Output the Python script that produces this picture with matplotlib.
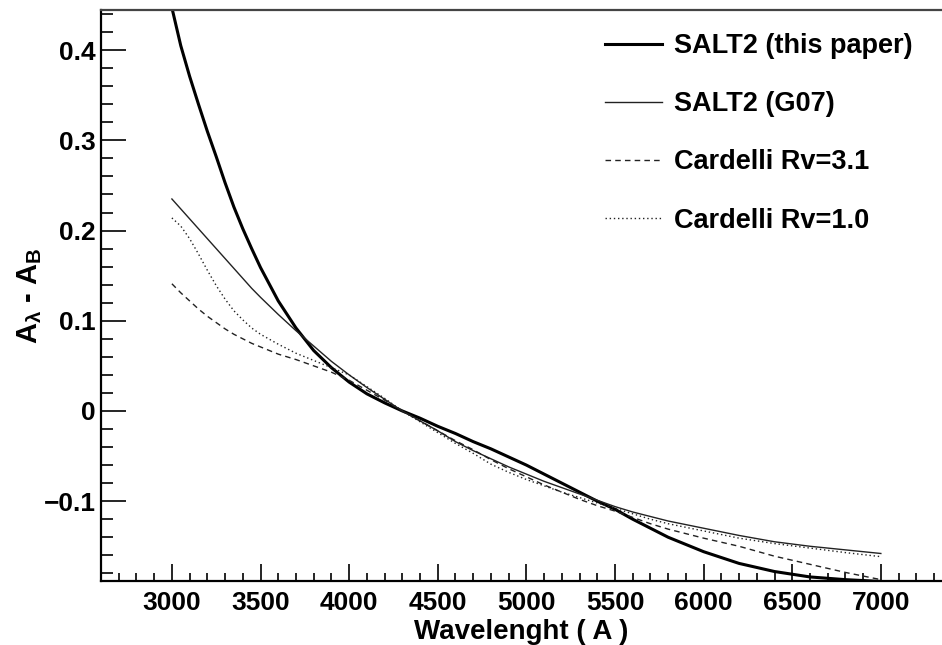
import matplotlib
matplotlib.use('Agg')
import matplotlib.pyplot as plt
from matplotlib.ticker import MultipleLocator, FuncFormatter

# ── DATA ──────────────────────────────────────────────────────────────────────
WAVE = [3000, 3050, 3100, 3150, 3200, 3250, 3300, 3350, 3400, 3450, 3500,
        3600, 3700, 3800, 3900, 4000, 4100, 4200, 4300, 4400, 4500, 4600,
        4700, 4800, 4900, 5000, 5100, 5200, 5300, 5400, 5500, 5600, 5700,
        5800, 5900, 6000, 6200, 6400, 6600, 6800, 7000]

salt2_paper = [0.447, 0.405, 0.371, 0.340, 0.310, 0.282, 0.253, 0.226, 0.202, 0.180, 0.159,
               0.122, 0.092, 0.067, 0.048, 0.032, 0.019, 0.009, 0.000, -0.008, -0.017, -0.025,
               -0.034, -0.042, -0.051, -0.060, -0.070, -0.080, -0.090, -0.100, -0.109, -0.120, -0.130,
               -0.140, -0.148, -0.156, -0.169, -0.178, -0.184, -0.187, -0.189]

salt2_g07 = [0.235, 0.224, 0.213, 0.202, 0.191, 0.180, 0.169, 0.158, 0.147, 0.136, 0.126,
             0.107, 0.089, 0.072, 0.055, 0.040, 0.026, 0.013, 0.000, -0.011, -0.022, -0.034,
             -0.044, -0.053, -0.062, -0.070, -0.078, -0.085, -0.092, -0.099, -0.106, -0.112, -0.117,
             -0.122, -0.126, -0.130, -0.138, -0.145, -0.150, -0.154, -0.158]

cardelli_31 = [0.141, 0.131, 0.122, 0.113, 0.105, 0.098, 0.091, 0.085, 0.080, 0.075, 0.071,
               0.063, 0.057, 0.050, 0.043, 0.034, 0.023, 0.012, 0.000, -0.011, -0.022, -0.033,
               -0.043, -0.054, -0.064, -0.073, -0.082, -0.090, -0.098, -0.105, -0.111, -0.118, -0.125,
               -0.131, -0.136, -0.141, -0.150, -0.161, -0.170, -0.179, -0.187]

cardelli_10 = [0.214, 0.205, 0.191, 0.174, 0.156, 0.139, 0.124, 0.111, 0.101, 0.092, 0.085,
               0.074, 0.064, 0.056, 0.048, 0.040, 0.027, 0.014, 0.000, -0.012, -0.024, -0.036,
               -0.047, -0.059, -0.068, -0.076, -0.083, -0.090, -0.096, -0.102, -0.108, -0.114, -0.120,
               -0.125, -0.129, -0.133, -0.141, -0.147, -0.152, -0.157, -0.1615]

LABELS = ["SALT2 (this paper)", "SALT2 (G07)", "Cardelli Rv=3.1", "Cardelli Rv=1.0"]

# ── STYLE ─────────────────────────────────────────────────────────────────────
plt.rcParams['font.family'] = ['Liberation Sans', 'DejaVu Sans']
plt.rcParams['font.weight'] = 'bold'
plt.rcParams['mathtext.fontset'] = 'custom'
plt.rcParams['mathtext.rm'] = 'Liberation Sans:bold'
plt.rcParams['mathtext.it'] = 'Liberation Sans:bold'
plt.rcParams['mathtext.bf'] = 'Liberation Sans:bold'

fig = plt.figure(figsize=(9.42, 6.45), dpi=100)
ax = fig.add_axes([101/942, 64/645, 841/942, 571/645])

ax.plot(WAVE, salt2_paper, color='black', lw=2.2, label=LABELS[0])
ax.plot(WAVE, salt2_g07, color='#222222', lw=1.0, label=LABELS[1])
ax.plot(WAVE, cardelli_31, color='#222222', lw=1.0, ls=(0, (4, 3)), label=LABELS[2])
ax.plot(WAVE, cardelli_10, color='#222222', lw=1.0, ls=(0, (1, 2)), label=LABELS[3])

ax.set_xlim(2600, 7345)
ax.set_ylim(-0.1885, 0.4445)

ax.xaxis.set_major_locator(MultipleLocator(500))
ax.xaxis.set_minor_locator(MultipleLocator(100))
ax.yaxis.set_major_locator(MultipleLocator(0.1))
ax.yaxis.set_minor_locator(MultipleLocator(0.02))
ax.yaxis.set_major_formatter(FuncFormatter(lambda v, p: "0" if abs(v) < 1e-9 else f"{v:.1f}".replace('-', '\u2212')))

ax.tick_params(axis='both', which='both', direction='in', top=False, right=False, width=1.2, labelsize=19)
ax.tick_params(axis='x', which='major', length=12, pad=7)
ax.tick_params(axis='x', which='minor', length=6)
ax.tick_params(axis='y', which='major', length=18, pad=4)
ax.tick_params(axis='y', which='minor', length=8.5)

for side in ['left', 'bottom']:
    ax.spines[side].set_linewidth(1.6)
ax.spines['top'].set_linewidth(1.6)
ax.spines['top'].set_color('#444444')
ax.spines['right'].set_visible(False)

ax.set_xlabel("Wavelenght ( A )", fontsize=20, fontweight='bold')
ax.xaxis.set_label_coords(0.5, -0.066)
ax.set_ylabel(r"A$_{\lambda}$ - A$_{\mathrm{B}}$", fontsize=21, fontweight='bold')
ax.yaxis.set_label_coords(-0.068, 0.5)

ax.legend(loc='upper left', bbox_to_anchor=(605/942, 1 - 33/645), bbox_transform=fig.transFigure,
          frameon=False, fontsize=19.5, handlelength=2.1, handletextpad=0.45, labelspacing=1.19,
          borderaxespad=0, borderpad=0)

plt.savefig("out.png", dpi=100)
plt.close()
